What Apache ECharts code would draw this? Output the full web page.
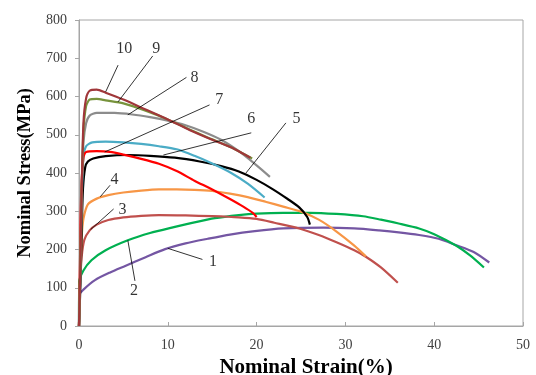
<!DOCTYPE html>
<html><head><meta charset="utf-8">
<script src="https://cdn.jsdelivr.net/npm/echarts@6/dist/echarts.min.js"></script>
<style>html,body{margin:0;padding:0;background:#fff}#c{width:536px;height:375px}</style>
</head><body><div id="c"></div>
<script>
// Curve data: [strain %, stress MPa]
const curve1 = [[0,0],[0.02,80],[0.5,95],[1.8,120],[3.5,140],[5.2,157],[7.5,180],[9.7,201],[12,216],[14.5,228],[17,239],[19.8,248],[23,255],[27.5,257],[31,255],[33.8,250],[36,245],[38.3,238],[40.5,228],[42.4,212],[44.5,193],[46.2,166]];
const curve2 = [[0,0],[0.02,115],[0.5,145],[1.4,172],[3,198],[5.5,224],[8,243],[10.8,259],[13,271],[15.3,282],[18,290],[20,294],[23,296],[26,296],[29,293],[32,287],[34,278],[36,268],[38.3,255],[40,240],[42.4,211],[44,185],[45.6,153]];
const curve3 = [[0,0],[0.1,100],[0.3,180],[0.6,225],[1.2,250],[2,265],[3.3,277],[5,284],[7,288],[9,290],[12,289],[15,287],[18,284],[20,280],[22,270],[24.8,255],[27,238],[29,219],[31,198],[32.3,181],[34,153],[35.9,113]];
const curve4 = [[0,0],[0.1,100],[0.3,230],[0.5,280],[1,318],[2,333],[3.3,342],[5,349],[7,354],[9,357],[11,357],[13,356],[15,353],[17,346],[19,337],[21,325],[23,312],[25,299],[27,278],[29,247],[31,210],[32.3,182]];
const curve5 = [[0,0],[0.15,100],[0.3,250],[0.45,360],[0.7,415],[1,430],[1.6,438],[3,444],[5.5,447],[8,445],[10.8,440],[13.6,430],[16,418],[18,404],[20,382],[21.8,358],[23.5,332],[24.8,310],[25.7,285],[26,265]];
const curve6 = [[0,0],[0.15,150],[0.3,330],[0.5,440],[0.8,470],[1.5,480],[3,482],[5,480],[7,476],[9,470],[11,462],[13,445],[15,425],[17,402],[19,372],[20.9,336]];
const curve7 = [[0,0],[0.1,150],[0.25,350],[0.5,440],[0.8,455],[2,457],[3.5,455],[5,448],[7,437],[9,424],[11,405],[13,380],[15,357],[17,332],[18.5,312],[19.6,295],[20,285]];
const curve8 = [[0,0],[0.15,150],[0.3,350],[0.5,480],[0.8,530],[1.2,550],[2,557],[4,557],[6,553],[8,546],[10,537],[12,525],[14,508],[16,487],[18,457],[20,420],[21.5,390]];
const curve9 = [[0,0],[0.15,150],[0.3,350],[0.5,510],[0.8,575],[1.2,592],[2,594],[3,590],[5,582],[7.5,563],[10,540],[12.5,513],[15,488],[17.5,463],[19.5,438]];
const curve10 = [[0,0],[0.15,150],[0.3,350],[0.5,530],[0.8,595],[1.2,615],[2,618],[3,610],[5,592],[7.5,566],[10,540],[12.5,512],[15,487],[17.5,463],[19.3,440]];

const curveNames = ['1','2','3','4','5','6','7','8','9','10'];
const curveColors = ['#7456a3','#00b050','#c0504d','#f79646','#000000','#4bacc6','#ff0000','#8c8c8c','#77933c','#a0373a'];
const curves = [curve1,curve2,curve3,curve4,curve5,curve6,curve7,curve8,curve9,curve10];

// Annotation labels and leader lines (data coordinates)
const labelText = ['1','2','3','4','5','6','7','8','9','10'];
const labelPos = [[15.1,167],[6.2,92],[4.9,305],[4.0,383],[24.5,543],[19.4,543],[15.8,591],[13.0,650],[8.7,724],[5.1,724]];
const leaderFrom = [[13.9,174],[6.3,118],[3.9,306],[3.5,368],[23.3,531],[19.4,505],[14.7,578],[12.1,650],[8.3,706],[4.4,682]];
const leaderTo = [[10.0,203],[5.5,224],[1.3,252],[2.4,338],[18.8,400],[9.5,447],[2.9,455],[5.5,552],[4.4,586],[3.0,612]];

const xTicks = {min:0, max:50, interval:10};
const yTicks = {min:0, max:800, interval:100};

const serif = 'Liberation Serif';
const chart = echarts.init(document.getElementById('c'), null, {renderer:'canvas'});

const series = curves.map((d,i)=>({
  name: curveNames[i], type:'line', data:d, showSymbol:false, smooth:0.25,
  lineStyle:{color:curveColors[i], width:2.2}, itemStyle:{color:curveColors[i]}, z:2, silent:true
}));
series.push({
  type:'lines', coordinateSystem:'cartesian2d', silent:true, z:3,
  lineStyle:{color:'#000', width:0.8, opacity:1},
  data: leaderFrom.map((f,i)=>({coords:[f, leaderTo[i]]}))
});
series.push({
  type:'scatter', symbolSize:0, silent:true, z:4,
  data: labelPos.map((p,i)=>({value:p, name:labelText[i]})),
  label:{show:true, position:'inside', formatter:p=>p.name, color:'#000', fontFamily:serif, fontSize:16}
});

chart.setOption({
  animation:false,
  backgroundColor:'#fff',
  grid:{left:79, right:13, top:20, bottom:49, containLabel:false, outerBoundsMode:'none',
        show:true, borderColor:'#a6a6a6', borderWidth:1},
  xAxis:{type:'value', min:xTicks.min, max:xTicks.max, interval:xTicks.interval,
    name:'Nominal Strain(%)', nameLocation:'middle', nameGap:31,
    nameTextStyle:{fontFamily:serif, fontWeight:'bold', fontSize:21, color:'#000', padding:[0,0,0,10]},
    axisLine:{lineStyle:{color:'#a6a6a6'}}, axisTick:{inside:true, length:4, lineStyle:{color:'#a6a6a6'}},
    axisLabel:{fontFamily:serif, fontSize:14, color:'#404040', margin:12},
    splitLine:{show:false}},
  yAxis:{type:'value', min:yTicks.min, max:yTicks.max, interval:yTicks.interval,
    name:'Nominal Stress(MPa)', nameLocation:'middle', nameGap:42,
    nameTextStyle:{fontFamily:serif, fontWeight:'bold', fontSize:18.5, color:'#000'},
    axisLine:{show:true, lineStyle:{color:'#a6a6a6'}}, axisTick:{show:true, length:4, lineStyle:{color:'#a6a6a6'}},
    axisLabel:{fontFamily:serif, fontSize:14, color:'#404040', margin:12},
    splitLine:{show:false}},
  series
});
</script></body></html>
